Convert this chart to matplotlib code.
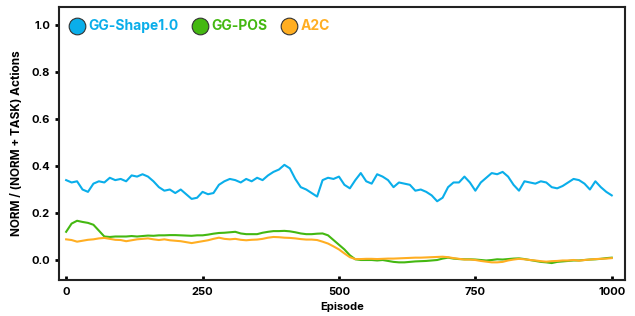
import numpy as np
import matplotlib
matplotlib.use("Agg")
import matplotlib.pyplot as plt
from matplotlib.lines import Line2D

plt.rcParams['font.family'] = ['Inter', 'DejaVu Sans']
plt.rcParams['font.weight'] = 'bold'

episodes = list(range(0, 1001, 10))

shape_vals = [
    0.34, 0.33, 0.335, 0.30, 0.29, 0.325, 0.335, 0.33, 0.35, 0.34,
    0.345, 0.335, 0.36, 0.355, 0.365, 0.355, 0.335, 0.31, 0.295, 0.30,
    0.285, 0.30, 0.28, 0.26, 0.265, 0.29, 0.28, 0.285, 0.32, 0.335,
    0.345, 0.34, 0.33, 0.345, 0.335, 0.35, 0.34, 0.36, 0.375, 0.385,
    0.405, 0.39, 0.345, 0.31, 0.30, 0.285, 0.27, 0.34, 0.35, 0.345,
    0.355, 0.32, 0.305, 0.34, 0.37, 0.335, 0.325, 0.365, 0.355, 0.34,
    0.31, 0.33, 0.325, 0.32, 0.295, 0.30, 0.29, 0.275, 0.25, 0.265,
    0.31, 0.33, 0.33, 0.355, 0.33, 0.295, 0.33, 0.35, 0.37, 0.365,
    0.375, 0.355, 0.32, 0.295, 0.335, 0.33, 0.325, 0.335, 0.33, 0.31,
    0.305, 0.315, 0.33, 0.345, 0.34, 0.325, 0.30, 0.335, 0.31, 0.29,
    0.275,
]

pos_vals = [
    0.12, 0.155, 0.167, 0.162, 0.158, 0.15, 0.125, 0.10, 0.098, 0.10,
    0.10, 0.10, 0.102, 0.10, 0.102, 0.104, 0.103, 0.105, 0.105, 0.106,
    0.106, 0.105, 0.104, 0.103, 0.105, 0.105, 0.108, 0.112, 0.115, 0.116,
    0.118, 0.12, 0.113, 0.11, 0.11, 0.11, 0.116, 0.12, 0.123, 0.123,
    0.124, 0.122, 0.118, 0.113, 0.11, 0.11, 0.112, 0.113, 0.105, 0.085,
    0.065, 0.045, 0.02, 0.003, 0.0, 0.0, 0.0, -0.002, 0.0, -0.004,
    -0.008, -0.01, -0.01, -0.008, -0.006, -0.005, -0.004, -0.002, 0.0, 0.006,
    0.01, 0.006, 0.004, 0.003, 0.003, 0.002, 0.0, -0.002, 0.0, 0.003,
    0.002, 0.004, 0.006, 0.007, 0.004, 0.0, -0.004, -0.008, -0.01, -0.013,
    -0.008, -0.006, -0.004, -0.002, -0.002, 0.0, 0.002, 0.003, 0.005, 0.008,
    0.01,
]

a2c_vals = [
    0.088, 0.085, 0.078, 0.082, 0.086, 0.088, 0.092, 0.094, 0.09, 0.086,
    0.085, 0.08, 0.084, 0.088, 0.09, 0.092, 0.088, 0.085, 0.088, 0.084,
    0.082, 0.08, 0.076, 0.072, 0.076, 0.08, 0.084, 0.09, 0.095, 0.09,
    0.088, 0.09, 0.086, 0.084, 0.086, 0.087, 0.09, 0.095, 0.098, 0.097,
    0.095, 0.094, 0.092, 0.089, 0.087, 0.087, 0.085, 0.078, 0.07, 0.058,
    0.045, 0.028, 0.012, 0.004, 0.004, 0.005, 0.005, 0.004, 0.005, 0.006,
    0.006, 0.007, 0.008, 0.009, 0.01, 0.01, 0.011, 0.012, 0.013, 0.014,
    0.012, 0.008, 0.005, 0.002, 0.002, 0.0, -0.004, -0.007, -0.01, -0.01,
    -0.008, -0.002, 0.002, 0.005, 0.003, 0.0, -0.002, -0.005, -0.007, -0.005,
    -0.004, -0.002, -0.002, 0.0, -0.003, 0.0, 0.002, 0.004, 0.005, 0.006,
    0.008,
]

names = ["GG-Shape1.0", "GG-POS", "A2C"]
colors = ["#0AAEEA", "#44B811", "#FFAE22"]
xticks = [0, 250, 500, 750, 1000]
yticks = [0.0, 0.2, 0.4, 0.6, 0.8, 1.0]


def main():
    fig = plt.figure(figsize=(6.35, 3.16), dpi=100)
    ax = fig.add_axes([0.093, 0.114, 0.891, 0.864])
    for vals, c in zip([shape_vals, pos_vals, a2c_vals], colors):
        ax.plot(episodes, vals, color=c, lw=1.5)

    ax.set_xlim(-13, 1024)
    ax.set_ylim(-0.085, 1.077)
    ax.set_xticks(xticks)
    ax.set_yticks(yticks)
    ax.set_yticklabels(["%.1f" % v for v in yticks])
    ax.tick_params(axis="x", direction="in", length=3, width=2, labelsize=8, pad=5)
    ax.tick_params(axis="y", direction="out", length=3, width=2, labelsize=8)
    for sp in ax.spines.values():
        sp.set_linewidth(1.5)
        sp.set_color("#222222")
    ax.set_xlabel("Episode", fontsize=8, fontweight="bold", labelpad=4)
    ax.set_ylabel("NORM / (NORM + TASK) Actions", fontsize=8.5, fontweight="bold",
                  labelpad=6)

    handles = [Line2D([], [], ls="none", marker="o", markersize=12,
                      markerfacecolor=c, markeredgecolor="#333333",
                      markeredgewidth=0.8) for c in colors]
    leg = ax.legend(handles, names, loc="upper left", ncol=3, frameon=False,
                    bbox_to_anchor=(-0.003, 1.0), handletextpad=0.25,
                    columnspacing=1.0, fontsize=10, handlelength=1.1)
    for t, c in zip(leg.get_texts(), colors):
        t.set_color(c)
        t.set_fontweight("bold")

    fig.savefig("out.png", dpi=100)


if __name__ == "__main__":
    main()
